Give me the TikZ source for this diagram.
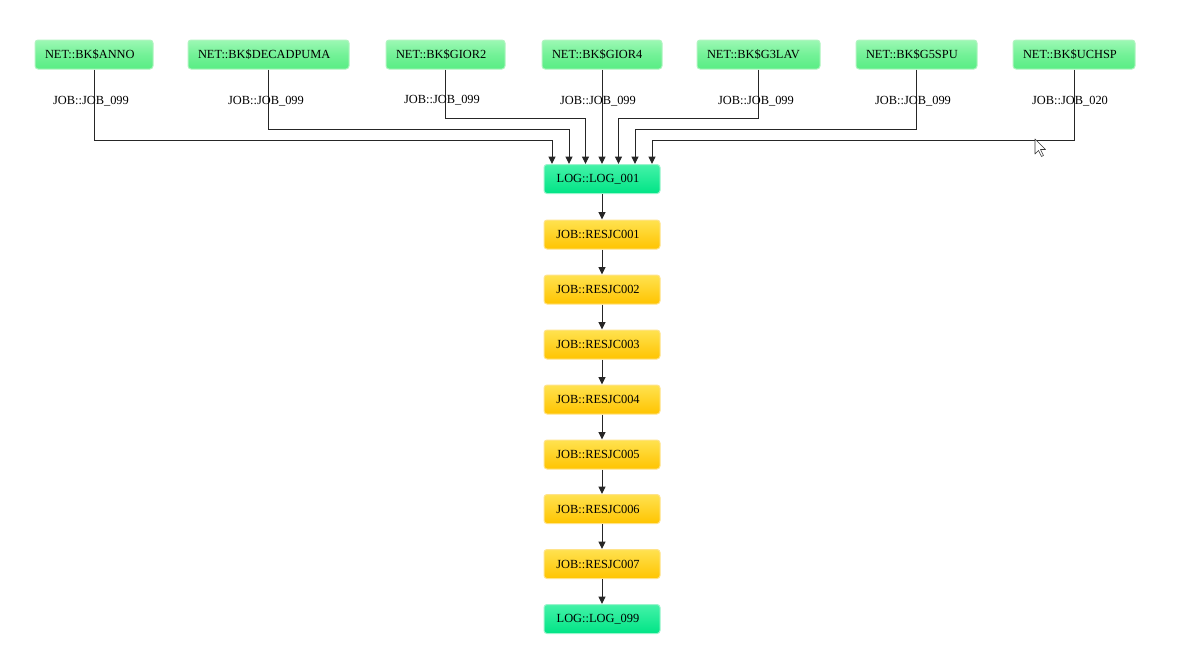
\documentclass[tikz,border=0pt]{standalone}
\usepackage{fontspec}
\setmainfont{Liberation Serif}
\usetikzlibrary{arrows.meta,calc}
\definecolor{netTop}{HTML}{9CF8B4}
\definecolor{netBot}{HTML}{58ED84}
\definecolor{netBd}{HTML}{B0F4C0}
\definecolor{logTop}{HTML}{44F2A8}
\definecolor{logBot}{HTML}{00E486}
\definecolor{logBd}{HTML}{9AF4CC}
\definecolor{jobTop}{HTML}{FFE250}
\definecolor{jobBot}{HTML}{FFC400}
\definecolor{jobBd}{HTML}{FFE38A}
\definecolor{lineC}{HTML}{262626}
\tikzset{
  box/.style={rectangle, rounded corners=3pt, minimum height=29pt, inner ysep=0pt,
    font=\fontsize{12.4}{14}\selectfont, line width=1pt},
  netbox/.style={box, draw=netBd, top color=netTop, bottom color=netBot, middle color=netBot!60!netTop,
    align=left, inner xsep=10pt},
  logbox/.style={box, draw=logBd, top color=logTop, bottom color=logBot,
    minimum width=116pt, text width=96pt, align=center, inner xsep=10pt},
  jobbox/.style={box, draw=jobBd, top color=jobTop, bottom color=jobBot,
    minimum width=116pt, text width=96pt, align=center, inner xsep=10pt},
  lbl/.style={font=\fontsize{12.4}{14}\selectfont, inner sep=0pt},
  arr/.style={draw=lineC, line width=1pt, -{Triangle[length=7.5pt,width=7pt]}}
}
\begin{document}
\begin{tikzpicture}[x=1pt,y=-1pt]
\useasboundingbox (0,0) rectangle (1200,665);
% top nodes
\node[netbox, text width=98pt]  (n1) at (94,54.5) {NET::BK\$ANNO};
\node[netbox, text width=141pt] (n2) at (268.5,54.5) {NET::BK\$DECADPUMA};
\node[netbox, text width=99pt]  (n3) at (445.5,54.5) {NET::BK\$GIOR2};
\node[netbox, text width=100pt] (n4) at (602,54.5) {NET::BK\$GIOR4};
\node[netbox, text width=103pt] (n5) at (758.5,54.5) {NET::BK\$G3LAV};
\node[netbox, text width=101pt] (n6) at (916.5,54.5) {NET::BK\$G5SPU};
\node[netbox, text width=102pt] (n7) at (1074,54.5) {NET::BK\$UCHSP};
% chain
\node[logbox] (l1) at (602,179) {\hspace*{-8pt}LOG::LOG\_001};
\node[jobbox] (j1) at (602,234.5) {\hspace*{-8pt}JOB::RESJC001};
\node[jobbox] (j2) at (602,289.5) {\hspace*{-8pt}JOB::RESJC002};
\node[jobbox] (j3) at (602,344.5) {\hspace*{-8pt}JOB::RESJC003};
\node[jobbox] (j4) at (602,399.5) {\hspace*{-8pt}JOB::RESJC004};
\node[jobbox] (j5) at (602,454.5) {\hspace*{-8pt}JOB::RESJC005};
\node[jobbox] (j6) at (602,509) {\hspace*{-8pt}JOB::RESJC006};
\node[jobbox] (j7) at (602,564) {\hspace*{-8pt}JOB::RESJC007};
\node[logbox] (l2) at (602,619) {\hspace*{-8pt}LOG::LOG\_099};
% connectors from top nodes
\draw[arr] (n1.south) -- (n1.south |- 0,140) -| ([xshift=-50pt]l1.north);
\draw[arr] (n2.south) -- (n2.south |- 0,129) -| ([xshift=-33pt]l1.north);
\draw[arr] (n3.south) -- (n3.south |- 0,118) -| ([xshift=-16.5pt]l1.north);
\draw[arr] (n4.south) -- (l1.north);
\draw[arr] (n5.south) -- (n5.south |- 0,118) -| ([xshift=16.5pt]l1.north);
\draw[arr] (n6.south) -- (n6.south |- 0,129) -| ([xshift=33pt]l1.north);
\draw[arr] (n7.south) -- (n7.south |- 0,140) -| ([xshift=50pt]l1.north);
% edge labels
\node[lbl] (e1) at (91,101) {JOB::JOB\_099};
\node[lbl] (e2) at (266,101) {JOB::JOB\_099};
\node[lbl] (e3) at (442,100) {JOB::JOB\_099};
\node[lbl] (e4) at (598,101) {JOB::JOB\_099};
\node[lbl] (e5) at (756,101) {JOB::JOB\_099};
\node[lbl] (e6) at (913,101) {JOB::JOB\_099};
\node[lbl] (e7) at (1070,101) {JOB::JOB\_020};
% chain connectors
\draw[arr] (l1) -- (j1);
\draw[arr] (j1) -- (j2);
\draw[arr] (j2) -- (j3);
\draw[arr] (j3) -- (j4);
\draw[arr] (j4) -- (j5);
\draw[arr] (j5) -- (j6);
\draw[arr] (j6) -- (j7);
\draw[arr] (j7) -- (l2);
% mouse cursor
\draw[fill=white, draw=black!80, line width=0.6pt, line join=round]
  (1035,139) -- (1035,154) -- (1038.5,150.5) -- (1041.5,156.5) -- (1043.5,155.5)
  -- (1040.5,149.5) -- (1045.5,149.5) -- cycle;
\end{tikzpicture}
\end{document}
